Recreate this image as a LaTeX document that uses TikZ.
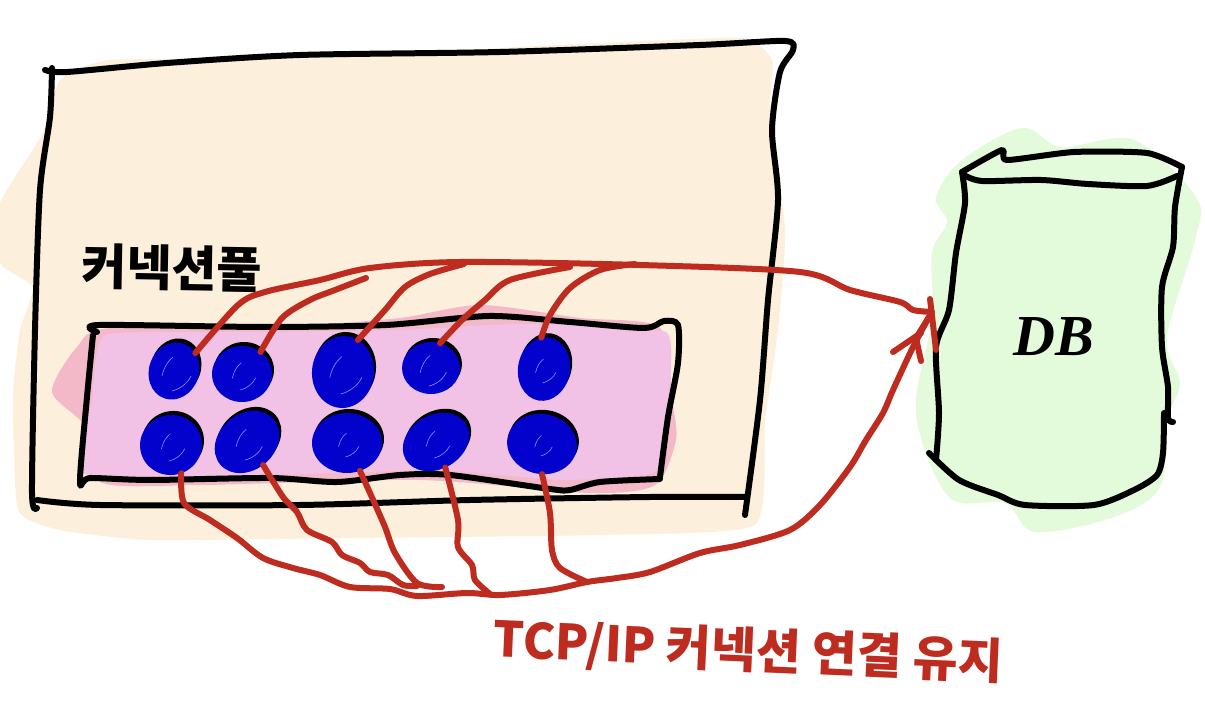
\documentclass[tikz,border=0pt]{standalone}
\usepackage{fontspec}
\setmainfont{Noto Sans CJK KR}
\newfontfamily\dbfont{Liberation Serif}
\usetikzlibrary{shapes.geometric}
\definecolor{cream}{HTML}{FCEFDC}
\definecolor{rosepink}{HTML}{F3B9C9}
\definecolor{lilac}{HTML}{F2C2E6}
\definecolor{mint}{HTML}{E3FBDB}
\definecolor{wire}{HTML}{BE2B1F}
\definecolor{inkblue}{HTML}{0202CC}
\tikzset{
  ink/.style={draw=black,line width=3pt,line cap=round,line join=round},
  wireline/.style={draw=wire,line width=3pt,line cap=round,line join=round},
  blob/.style={ellipse,fill=inkblue,inner sep=0pt,outer sep=0pt},
  blobshade/.style={ellipse,fill=black,inner sep=0pt,outer sep=0pt},
  sheen/.style={draw=blue!45!white,line width=0.3pt,line cap=round},
  blacklabel/.style={text=black,font=\fontsize{24.5}{28}\selectfont\bfseries,inner sep=0pt},
  redlabel/.style={text=wire,font=\fontsize{24.4}{28}\selectfont\bfseries,inner sep=0pt}
}
\begin{document}
\begin{tikzpicture}[x=0.5pt,y=-0.5pt]
\useasboundingbox (0,0) rectangle (1205,726);
\fill[white] (0,0) rectangle (1205,726);
% colour washes
\fill[cream] plot[smooth cycle,tension=0.3] coordinates {(110,60) (300,58) (560,45) (740,38) (772,60) (770,110) (785,230) (778,330) (765,420) (755,525) (600,535) (350,538) (150,540) (60,530) (18,510) (13,397) (20,330) (33,287) (0,263) (0,203) (43,133) (60,80)};
\fill[mint] plot[smooth cycle,tension=0.55] coordinates {(936,197) (962,160) (1022,128) (1061,147) (1134,140) (1196,197) (1196,237) (1167,337) (1180,383) (1167,420) (1160,487) (1114,517) (1035,532) (1005,503) (949,497) (916,413) (932,320) (932,253) (947,222)};
\fill[rosepink] plot[smooth cycle,tension=0.45] coordinates {(110,328) (300,325) (400,318) (480,305) (580,318) (660,328) (672,400) (676,440) (655,485) (590,493) (420,480) (200,485) (100,482) (87,428) (52,392) (77,347)};
\fill[lilac] plot[smooth cycle,tension=0.25] coordinates {(105,335) (250,332) (400,330) (520,324) (666,332) (668,400) (655,472) (560,480) (440,470) (300,474) (85,474) (92,400)};
% outlines
\draw[ink] plot[smooth,tension=0.45] coordinates {(45,70) (67,72) (167,63) (300,55) (500,52) (700,45) (785,41) (793,50) (780,72) (772,130) (778,200) (768,300) (760,400) (745,515)};
\draw[ink] plot[smooth,tension=0.45] coordinates {(52,68) (50,117) (40,190) (35,330) (32,493) (37,508)};
\draw[ink] plot[smooth,tension=0.45] coordinates {(37,500) (100,505) (300,505) (470,500) (650,497) (745,497)};
\draw[ink] plot[smooth,tension=0.45] coordinates {(97,332) (99,325) (264,327) (386,325) (489,316) (570,322) (644,328) (664,321) (678,325) (678,363) (668,417) (660,477)};
\draw[ink] plot[smooth,tension=0.45] coordinates {(93,335) (87,397) (80,482) (90,478) (150,480) (270,478) (337,482) (400,475) (450,475) (550,489) (570,490) (600,482) (660,479)};
\draw[ink] plot[smooth,tension=0.4] coordinates {(962,172) (1002,150) (1007,160) (1074,152) (1147,153) (1182,167)};
\draw[ink] plot[smooth,tension=0.45] coordinates {(964,175) (982,181) (1041,180) (1088,184) (1147,186) (1177,176)};
\draw[ink] plot[smooth,tension=0.45] coordinates {(962,172) (965,203) (956,253) (949,310) (936,347) (939,413) (936,460)};
\draw[ink] plot[smooth,tension=0.45] coordinates {(929,453) (959,480) (998,495) (1025,505) (1094,505) (1134,490) (1157,475) (1163,453) (1164,413)};
\draw[ink] plot[smooth,tension=0.45] coordinates {(1182,167) (1175,207) (1173,247) (1162,287) (1162,347) (1168,387) (1168,418) (1173,422)};
% pool members
\foreach \n/\x/\y/\rx/\ry/\r/\s in {a/174/371/25/29/-20/1,b/242/374/30/28/0/.8,c/343/372/31/36/-5/1.1,d/431/368/29/26/0/.9,e/544/369/26/32/-10/.7,
  f/171/445/31/30/10/.8,g/247/442/35/28/40/.9,h/347/443/35/30/0/.7,i/436/442/35/27/30/.8,j/542/444/35/30/-10/.6}{
  \node[blobshade,rotate=\r,minimum width=2*\rx*0.5pt,minimum height=2*\ry*0.5pt] at (\x+2,\y-4) {};
  \node[blob,rotate=\r,minimum width=2*\rx*0.5pt,minimum height=2*\ry*0.5pt] (\n) at (\x,\y) {};
  \draw[sheen] (\x-12*\s,\y+5*\s) .. controls (\x-10*\s,\y-4*\s) and (\x-6*\s,\y-10*\s) .. (\x-1*\s,\y-14*\s);
  \draw[sheen] (\x-2*\s,\y+20*\s) .. controls (\x+6*\s,\y+18*\s) and (\x+14*\s,\y+12*\s) .. (\x+17*\s,\y+5*\s);
}
% database inlet and arrow tip
\coordinate (dbin) at (932,312);
\coordinate (dbtip) at (929,317);
% connections above
\draw[wireline] plot[smooth,tension=0.5] coordinates {(a.60) (238,305) (265,292) (320,280) (370,268) (460,262) (640,265) (800,272) (850,290) (900,302) (913,310) (dbin)};
\draw[wireline] plot[smooth,tension=0.5] coordinates {(b.50) (282,318) (310,300) (335,290) (366,278)};
\draw[wireline] plot[smooth,tension=0.5] coordinates {(c.70) (385,310) (405,287) (430,274) (464,264)};
\draw[wireline] plot[smooth,tension=0.5] coordinates {(d.70) (462,320) (485,300) (510,280) (570,267)};
\draw[wireline] plot[smooth,tension=0.5] coordinates {(e.105) (550,315) (570,288) (600,270) (635,264)};
% connections below
\draw[wireline] plot[smooth,tension=0.5] coordinates {(f.280) (184,503) (210,520) (237,538) (263,558) (293,568) (320,575) (350,587) (390,589) (417,596) (467,593) (500,595) (550,590) (587,582) (617,578) (650,572) (700,553) (740,545) (790,530) (820,505) (850,467) (866,440) (883,413) (893,390) (913,347) (dbtip)};
\draw[wireline] plot[smooth,tension=0.5] coordinates {(g.265) (283,497) (297,512) (307,530) (332,542) (342,555) (360,563) (370,572) (388,575) (403,585) (417,586)};
\draw[wireline] plot[smooth,tension=0.5] coordinates {(h.295) (370,493) (385,527) (395,553) (417,583) (442,587)};
\draw[wireline] plot[smooth,tension=0.5] coordinates {(i.260) (458,520) (458,547) (472,565) (475,580) (490,594)};
\draw[wireline] plot[smooth,tension=0.5] coordinates {(j.280) (550,513) (552,550) (560,568) (587,582)};
% arrowhead strokes
\draw[wireline] (893,352) -- (921,333);
\draw[wireline] (921,361) -- (916,338) -- (dbtip);
\draw[wireline] (930,299) -- (936,350);
% labels
\node[blacklabel,rotate=-1] (pool) at (172,268) {커넥션풀};
\node[text=black,font=\dbfont\fontsize{29}{32}\selectfont\bfseries\itshape,inner sep=0pt] (db) at (1054,337) {DB};
\node[redlabel,rotate=-2.5] (keep) at (748,652) {TCP/IP 커넥션 연결 유지};
\end{tikzpicture}
\end{document}
